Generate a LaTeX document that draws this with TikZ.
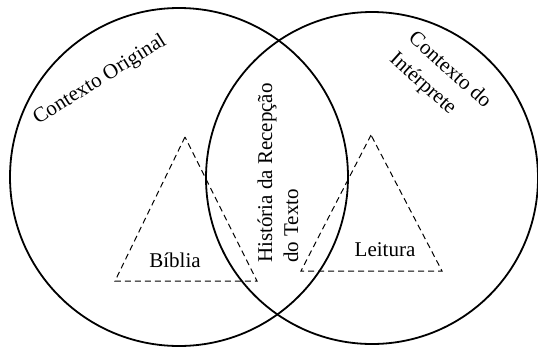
\documentclass[tikz,border=0pt]{standalone}
\usepackage{fontspec}
\setmainfont{Liberation Serif}
\usepackage{tikz}
\usetikzlibrary{positioning}

\tikzset{
  ring/.style={line width=1.8pt},
  tri/.style={line width=1pt, dash pattern=on 6pt off 4pt},
  lbl/.style={font=\fontsize{21}{26}\selectfont, inner sep=0pt}
}

\begin{document}
\begin{tikzpicture}[x=1pt,y=-1pt]

\useasboundingbox (0,0) rectangle (538,346);

% ============================
% CIRCLES
% ============================

\coordinate (Lc) at (179,177);
\coordinate (Rc) at (372,178);

\draw[ring] (Lc) circle (169pt);
\draw[ring] (Rc) circle (166pt);

% ============================
% TRIANGLES (DASHED)
% ============================

% Left triangle
\coordinate (LA) at (185,137);
\coordinate (LB) at (115,281);
\coordinate (LC) at (257,281);
\draw[tri] (LA)--(LB)--(LC)--cycle;

% Right triangle
\coordinate (RA) at (371,135);
\coordinate (RB) at (301,271);
\coordinate (RC) at (442,271);
\draw[tri] (RA)--(RB)--(RC)--cycle;

% ============================
% LABELS
% ============================

\node[lbl] (biblia) at (175,260) {Bíblia};
\node[lbl] (leitura) at (385,250) {Leitura};

\node[lbl, rotate=32] (original) at (100,80) {Contexto Original};
\node[lbl, rotate=-42, align=left, font=\fontsize{21}{28}\selectfont] (interprete) at (440,81) {Contexto do\\Intérprete};
\node[lbl, rotate=90, align=left] (recepcao) at (278,173) {História da Recepção\\do Texto};

\end{tikzpicture}
\end{document}
